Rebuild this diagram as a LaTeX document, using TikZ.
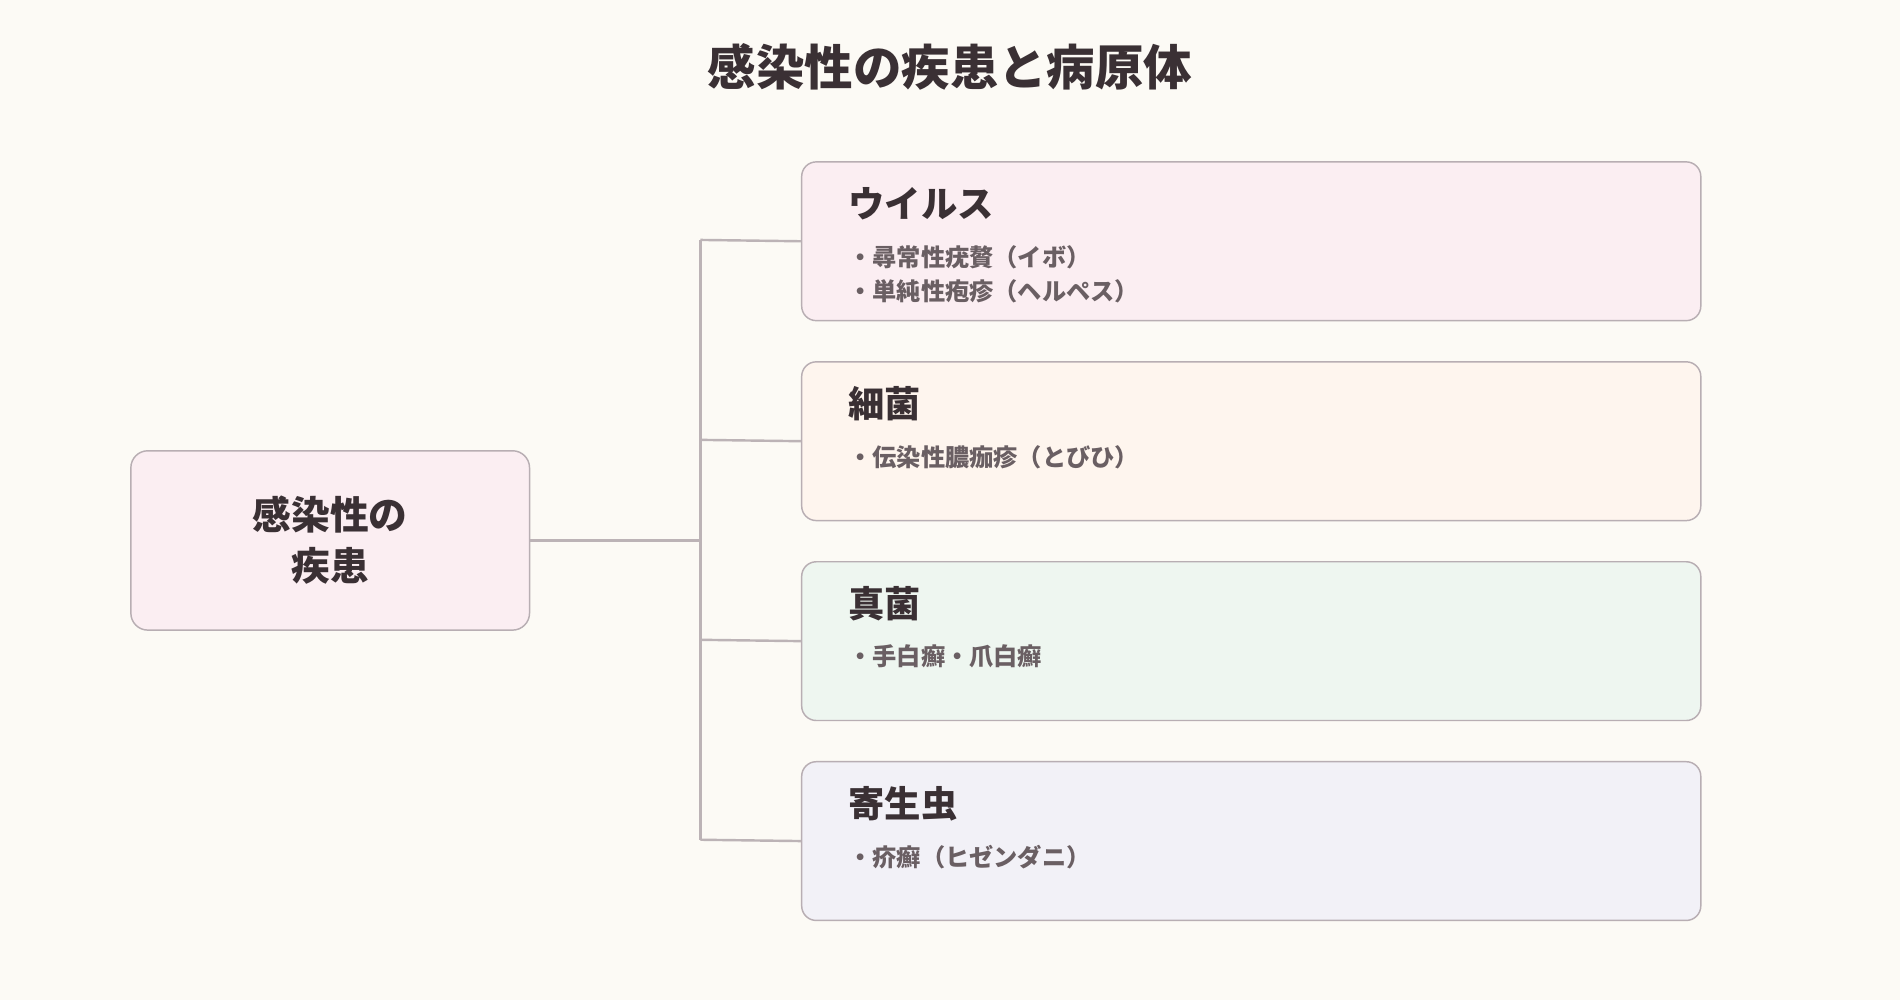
\documentclass[tikz,border=0pt]{standalone}
\usepackage{fontspec}
\newfontfamily\cjk{Noto Sans CJK JP}
\newfontfamily\cjkb{Noto Sans CJK JP Bold}
\definecolor{bg}{HTML}{FCFAF5}
\definecolor{bd}{HTML}{B8AEB3}
\definecolor{ln}{HTML}{BCB3B6}
\definecolor{tx}{HTML}{3A3034}
\definecolor{it}{HTML}{6A5F63}
\definecolor{c1}{HTML}{FBEEF2}
\definecolor{c2}{HTML}{FEF5EE}
\definecolor{c3}{HTML}{EEF6F0}
\definecolor{c4}{HTML}{F2F1F7}
\begin{document}
\begin{tikzpicture}[x=0.5pt,y=-0.5pt,
  box/.style={draw=bd,line width=0.6pt,rounded corners=6pt,minimum width=371pt,minimum height=65.5pt,anchor=north west,inner sep=0},
  hd/.style={anchor=west,font=\cjk\bfseries\fontsize{15}{18}\selectfont,text=tx},
  itm/.style={anchor=west,font=\cjk\bfseries\fontsize{10}{12}\selectfont,text=it},
  con/.style={draw=ln,line width=1pt}]
\fill[bg] (0,0) rectangle (1568,825);
\useasboundingbox (0,0) rectangle (1568,825);
\node[font=\cjk\bfseries\fontsize{20}{24}\selectfont,text=tx] (title) at (784,55) {感染性の疾患と病原体};
\node[draw=bd,line width=0.6pt,rounded corners=7pt,fill=c1,minimum width=164.5pt,minimum height=74pt,inner sep=0,align=center,font=\cjk\bfseries\fontsize{16}{21}\selectfont,text=tx] (L) at (272.5,446) {感染性の\\疾患};
\node[box,fill=c1] (b1) at (661,133) {};
\node[box,fill=c2] (b2) at (661,298) {};
\node[box,fill=c3] (b3) at (661,463) {};
\node[box,fill=c4] (b4) at (661,628) {};
\node[hd] (h1) at (693,168) {ウイルス};
\node[itm] (i1a) at (693,212) {・尋常性疣贅（イボ）};
\node[itm] (i1b) at (693,240) {・単純性疱疹（ヘルペス）};
\node[hd] (h2) at (693,333) {細菌};
\node[itm] (i2a) at (693,377) {・伝染性膿痂疹（とびひ）};
\node[hd] (h3) at (693,498) {真菌};
\node[itm] (i3a) at (693,542) {・手白癬・爪白癬};
\node[hd] (h4) at (693,663) {寄生虫};
\node[itm] (i4a) at (693,707) {・疥癬（ヒゼンダニ）};
\coordinate (j) at (578,446);
\coordinate (t1) at (578,198);
\coordinate (t2) at (578,363);
\coordinate (t3) at (578,528);
\coordinate (t4) at (578,693);
\draw[con] (L.east) -- (j);
\draw[con] (t1) -- (t4);
\draw[con] (t1) -- (b1.west);
\draw[con] (t2) -- (b2.west);
\draw[con] (t3) -- (b3.west);
\draw[con] (t4) -- (b4.west);
\end{tikzpicture}
\end{document}
